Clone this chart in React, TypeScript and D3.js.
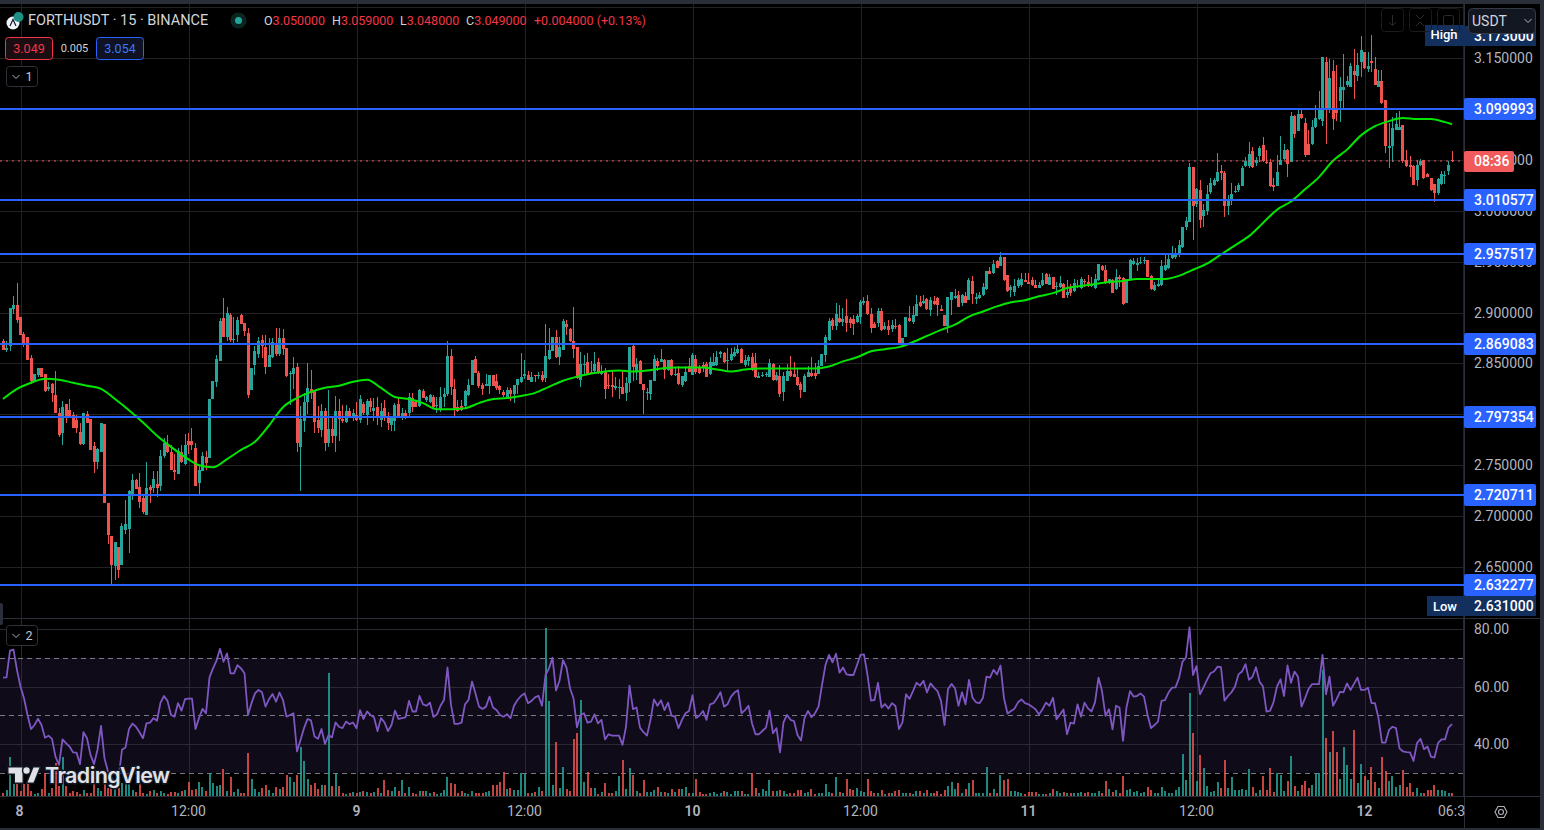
import React from "react";
import * as d3 from "d3";

// Candles as [open, high, low, close] in thousandths of USDT, 15-minute bars
const candlesA = [
[2872,2874,2863,2863],[2863,2872,2861,2865],[2867,2904,2862,2904],[2903,2916,2899,2907],[2907,2929,2890,2893],[2896,2896,2878,2878],[2879,2881,2866,2870],[2876,2876,2853,2853],[2855,2858,2830,2833],[2833,2840,2832,2840],
[2839,2845,2837,2845],[2845,2845,2837,2837],[2840,2840,2822,2823],[2825,2832,2823,2827],[2830,2831,2812,2821],[2819,2843,2801,2801],[2801,2806,2778,2780],[2782,2813,2770,2807],[2810,2810,2791,2796],[2804,2815,2796,2796],
[2799,2802,2787,2787],[2794,2799,2782,2787],[2783,2791,2770,2771],[2771,2801,2770,2801],[2800,2803,2791,2791],[2795,2795,2765,2765],[2769,2773,2742,2753],[2753,2767,2746,2766],[2763,2791,2763,2791],[2790,2790,2713,2713],
[2713,2713,2673,2681],[2680,2680,2632,2652],[2651,2675,2637,2675],[2670,2670,2639,2647],[2652,2693,2652,2690],[2686,2716,2682,2692],[2687,2726,2664,2725],[2722,2741,2716,2735],[2735,2736,2727,2727],[2729,2742,2708,2714],
[2718,2722,2702,2704],[2701,2753,2701,2728],[2729,2731,2713,2726],[2728,2744,2723,2736],[2732,2744,2719,2728],[2730,2765,2725,2759],[2759,2777,2757,2772],[2771,2780,2762,2763],[2763,2770,2745,2745],[2745,2761,2735,2743],
[2741,2767,2741,2764],[2763,2770,2752,2753],[2751,2781,2750,2770],[2774,2782,2761,2770],[2774,2787,2765,2770],[2767,2772,2730,2730],[2733,2749,2722,2745],[2744,2763,2744,2759],[2758,2764,2745,2752],[2757,2815,2757,2815],
[2815,2833,2815,2833],[2832,2858,2827,2854],[2852,2895,2852,2892],[2895,2914,2876,2876],[2876,2905,2872,2900],[2898,2900,2871,2873],[2873,2896,2869,2874],[2878,2896,2871,2893],[2898,2899,2889,2889],[2890,2890,2877,2882],
[2880,2885,2816,2819],[2824,2845,2824,2845],[2848,2867,2839,2862],[2859,2876,2855,2872],[2873,2878,2855,2867],[2866,2878,2840,2846],[2846,2875,2846,2858],[2856,2875,2855,2871],[2869,2885,2857,2859],[2859,2885,2857,2875],
[2875,2884,2858,2864],[2865,2865,2837,2838],[2840,2843,2809,2841],[2840,2856,2825,2845],[2846,2850,2763,2772],[2768,2808,2725,2795],[2793,2821,2783,2812],[2812,2850,2800,2826],[2825,2844,2815,2821],[2824,2824,2782,2792],
[2794,2808,2782,2787],[2785,2810,2778,2803],[2803,2806,2764,2772],[2772,2824,2768,2786],[2786,2796,2772,2779],[2779,2818,2763,2803],[2803,2815,2774,2795],[2795,2809,2791,2793],[2792,2809,2791,2803],[2803,2806,2796,2796],
];
const candlesB = [
[2796,2805,2793,2801],[2799,2812,2793,2794],[2794,2819,2791,2815],[2810,2812,2799,2801],[2799,2815,2789,2813],[2813,2816,2802,2807],[2803,2816,2793,2806],[2807,2817,2789,2796],[2794,2811,2788,2803],[2806,2814,2793,2798],
[2798,2802,2785,2791],[2789,2796,2784,2796],[2793,2811,2784,2809],[2810,2817,2796,2798],[2798,2806,2794,2801],[2801,2804,2795,2798],[2801,2821,2796,2817],[2816,2821,2802,2807],[2812,2814,2807,2807],[2808,2825,2807,2824],
[2823,2825,2816,2816],[2814,2818,2812,2817],[2812,2820,2811,2819],[2817,2819,2806,2807],[2808,2817,2801,2809],[2804,2827,2802,2817],[2817,2826,2807,2820],[2820,2872,2818,2857],[2857,2864,2819,2827],[2825,2835,2797,2806],
[2807,2814,2802,2803],[2808,2814,2803,2804],[2808,2824,2805,2823],[2819,2835,2818,2829],[2829,2853,2829,2853],[2854,2857,2841,2841],[2841,2843,2826,2828],[2829,2831,2819,2825],[2828,2840,2828,2830],[2828,2839,2820,2839],
[2839,2839,2828,2828],[2833,2840,2824,2826],[2828,2829,2820,2824],[2822,2824,2817,2819],[2817,2827,2817,2824],[2824,2826,2813,2820],[2820,2829,2811,2829],[2829,2835,2820,2835],[2832,2860,2831,2837],[2838,2853,2835,2840],
[2839,2843,2834,2834],[2832,2842,2832,2837],[2839,2839,2832,2838],[2838,2842,2835,2839],[2839,2843,2832,2834],[2836,2889,2832,2857],[2854,2885,2853,2863],[2862,2876,2862,2876],[2876,2883,2855,2856],[2856,2876,2848,2866],
[2863,2894,2863,2892],[2889,2893,2878,2886],[2884,2885,2871,2872],[2872,2905,2855,2864],[2866,2866,2835,2836],[2834,2861,2827,2849],[2848,2858,2840,2849],[2851,2860,2839,2840],[2842,2852,2840,2841],[2843,2861,2840,2849],
[2851,2855,2840,2841],[2840,2848,2839,2842],[2842,2845,2815,2825],[2829,2840,2825,2828],[2829,2844,2817,2827],[2826,2837,2824,2828],[2826,2835,2815,2827],[2827,2844,2820,2820],[2821,2837,2813,2831],[2831,2866,2822,2866],
[2867,2869,2833,2846],[2843,2855,2834,2849],[2852,2853,2830,2830],[2830,2830,2800,2824],[2821,2826,2814,2822],[2820,2834,2814,2834],[2833,2858,2833,2854],[2852,2855,2843,2847],[2851,2864,2851,2854],[2853,2854,2835,2844],
[2844,2853,2843,2853],[2853,2854,2838,2839],[2839,2845,2838,2840],[2841,2847,2829,2830],[2829,2838,2827,2838],[2833,2847,2832,2842],[2847,2855,2842,2842],[2839,2860,2839,2858],[2854,2858,2840,2842],[2846,2848,2840,2841],
];
const candlesC = [
[2848,2851,2842,2845],[2849,2851,2837,2837],[2840,2856,2839,2851],[2847,2860,2847,2851],[2848,2862,2847,2856],[2859,2862,2855,2861],[2860,2861,2850,2851],[2852,2865,2843,2853],[2853,2865,2852,2859],[2857,2866,2856,2861],
[2860,2868,2859,2864],[2864,2865,2850,2850],[2848,2858,2846,2853],[2852,2858,2847,2856],[2856,2860,2843,2844],[2850,2860,2836,2837],[2836,2842,2836,2838],[2838,2842,2837,2839],[2839,2842,2837,2840],[2837,2854,2837,2850],
[2849,2850,2833,2834],[2834,2842,2833,2839],[2838,2848,2817,2820],[2822,2842,2813,2838],[2833,2849,2833,2843],[2843,2857,2837,2838],[2840,2851,2837,2837],[2837,2845,2828,2829],[2830,2832,2816,2824],[2822,2840,2822,2838],
[2837,2847,2837,2842],[2841,2856,2837,2838],[2841,2850,2835,2838],[2840,2853,2840,2847],[2847,2859,2847,2859],[2858,2878,2851,2876],[2873,2895,2872,2892],[2893,2895,2883,2887],[2887,2909,2883,2899],[2895,2907,2890,2891],
[2891,2904,2887,2894],[2897,2913,2881,2890],[2894,2896,2885,2890],[2894,2898,2878,2889],[2891,2899,2890,2897],[2896,2912,2889,2910],[2909,2915,2907,2911],[2911,2917,2898,2899],[2899,2904,2880,2885],[2889,2891,2885,2885],
[2890,2904,2886,2901],[2901,2904,2882,2883],[2884,2891,2883,2887],[2887,2893,2878,2883],[2884,2893,2881,2888],[2887,2894,2884,2886],[2888,2889,2869,2870],[2868,2875,2867,2875],[2876,2896,2876,2896],[2895,2906,2891,2892],
[2891,2906,2889,2898],[2897,2917,2897,2908],[2910,2916,2905,2906],[2909,2917,2908,2911],[2913,2914,2902,2903],[2902,2915,2897,2912],[2911,2916,2907,2908],[2914,2915,2897,2907],[2903,2907,2901,2901],[2898,2898,2887,2887],
[2887,2915,2880,2915],[2912,2920,2898,2920],[2914,2923,2913,2916],[2917,2921,2905,2905],[2909,2918,2906,2917],[2916,2920,2909,2909],[2912,2934,2912,2932],[2931,2936,2908,2918],[2913,2919,2908,2915],[2914,2920,2913,2917],
[2917,2929,2916,2925],[2923,2941,2922,2941],[2941,2945,2938,2938],[2939,2952,2938,2948],[2951,2952,2944,2944],[2946,2959,2946,2955],[2955,2955,2931,2932],[2937,2937,2920,2921],[2922,2927,2915,2925],[2920,2933,2916,2926],
[2926,2934,2924,2932],[2927,2939,2925,2933],[2932,2939,2930,2930],[2930,2939,2928,2928],[2932,2935,2926,2927],[2927,2932,2924,2924],[2924,2930,2924,2927],[2927,2939,2926,2932],[2938,2939,2928,2928],[2927,2938,2927,2935],
];
const candlesD = [
[2935,2935,2923,2923],[2925,2930,2917,2926],[2925,2936,2924,2929],[2928,2929,2914,2914],[2917,2932,2914,2920],[2924,2928,2916,2919],[2921,2933,2920,2929],[2925,2932,2924,2926],[2924,2935,2923,2933],[2931,2933,2925,2930],
[2930,2937,2925,2927],[2926,2935,2925,2928],[2924,2938,2923,2933],[2932,2948,2931,2948],[2946,2947,2941,2942],[2942,2947,2928,2929],[2929,2933,2928,2933],[2932,2933,2919,2919],[2923,2943,2922,2935],[2935,2937,2925,2933],
[2934,2935,2907,2908],[2909,2933,2909,2933],[2933,2953,2932,2952],[2948,2954,2947,2951],[2947,2954,2941,2949],[2949,2955,2948,2950],[2952,2955,2948,2952],[2952,2952,2935,2935],[2936,2937,2922,2923],[2922,2930,2921,2927],
[2926,2932,2925,2928],[2927,2952,2926,2946],[2942,2956,2941,2947],[2944,2956,2943,2953],[2954,2965,2953,2957],[2955,2963,2953,2957],[2958,2971,2955,2966],[2964,2984,2963,2984],[2984,2994,2981,2990],[2989,3047,2989,3043],
[3043,3043,2971,3005],[3007,3022,3004,3021],[3020,3030,2983,2991],[2995,3007,2984,3001],[3000,3025,2996,3016],[3018,3032,3016,3027],[3025,3032,3024,3030],[3029,3057,3028,3038],[3039,3045,3030,3037],[3037,3039,2994,3005],
[3005,3015,2996,3010],[3010,3027,3006,3016],[3018,3024,3017,3019],[3020,3027,3018,3025],[3024,3044,3024,3042],[3044,3053,3043,3049],[3044,3067,3042,3056],[3059,3063,3042,3043],[3047,3053,3044,3050],[3054,3064,3048,3062],
[3065,3072,3048,3049],[3048,3060,3046,3047],[3048,3051,3023,3024],[3025,3032,3019,3023],[3024,3055,3024,3038],[3045,3073,3045,3050],[3051,3066,3050,3060],[3060,3061,3033,3046],[3048,3097,3048,3093],[3093,3094,3071,3075],
[3078,3100,3078,3095],[3095,3100,3090,3091],[3086,3091,3053,3055],[3066,3079,3055,3055],[3066,3089,3065,3082],[3082,3104,3081,3091],[3090,3118,3089,3101],[3088,3151,3083,3151],[3146,3151,3066,3100],[3100,3149,3096,3130],
[3137,3148,3079,3090],[3101,3143,3088,3096],[3108,3131,3087,3122],[3119,3154,3101,3122],[3123,3132,3122,3127],[3122,3145,3122,3142],[3137,3159,3110,3133],[3132,3155,3127,3143],[3146,3172,3131,3158],[3156,3156,3139,3140],
[3139,3156,3136,3142],[3147,3173,3136,3145],[3139,3151,3123,3123],[3122,3138,3122,3127],[3127,3138,3105,3106],[3109,3109,3057,3064],[3062,3086,3042,3064],[3064,3092,3048,3081],[3079,3096,3079,3085],[3079,3098,3079,3082],
[3084,3084,3047,3049],[3050,3060,3043,3044],[3045,3054,3033,3043],[3044,3045,3025,3025],[3030,3050,3024,3045],[3045,3051,3044,3049],[3050,3050,3031,3032],[3036,3037,3033,3033],[3032,3032,3019,3020],[3026,3026,3009,3017],
[3017,3032,3015,3031],[3026,3039,3025,3036],[3034,3039,3026,3035],[3039,3049,3035,3045],[3050,3059,3048,3049],
];

// 25-ish point moving average, read every fourth bar
const maPart1 = [2815,2825,2831,2835,2834,2831,2828,2825,2815,2804,2792,2779,2768,2758,2750,2748,2756,2765,2773,2789,2807,2816,2822,2826,2828];
const maPart2 = [2832,2834,2826,2817,2815,2811,2805,2805,2806,2811,2815,2816,2818,2821,2827,2833,2837,2840,2842,2843,2842,2843,2845,2846,2846];
const maPart3 = [2846,2844,2842,2844,2845,2845,2845,2845,2845,2847,2852,2856,2862,2864,2866,2871,2877,2883,2888,2896,2901,2906,2910,2912,2916];
const maPart4 = [2919,2924,2926,2928,2930,2931,2933,2933,2933,2936,2942,2948,2957,2966,2975,2988,3001,3009,3021,3033,3049,3060,3074,3083,3088,3091,3090,3090,3087,3085];

const rsiA = [
63.1,63.2,72.5,72.8,65.7,60,55.9,50.1,45.2,46.6,48.8,46.6,42.2,42.9,41.8,35.6,32.7,41.6,40.3,39.1,
37.1,37,33,44.1,42,36.2,33,38,46.3,35,30.4,28.1,26.9,28.1,38,38.8,45.2,47.1,46,44.1,
42,47.2,47.4,49,48.1,54.4,56.7,55,50.1,49.5,54.2,51.6,55.6,55.8,55.8,45.2,49,52.2,50.7,63.2,
66.3,69,73.1,68.6,71.5,64.6,64.6,67.4,66.3,64.6,50.1,54.2,57.6,58.8,58,53,55.6,57.4,54.7,57.9,
55.3,49.5,50.1,50.7,37.4,41.4,45.5,48.7,48.2,42.6,41.8,45.2,40,43.1,42.3,47.5,46,45.5,47.8,46.9,
47.5,45.5,51.8,48.7,51.3,50.1,49.3,44.5,49,47.5,44.5,46.6,51.6,48.7,49,49.3,55,51.3,51.3,56.7,
53.8,53.3,54.4,49.4,50.3,53.3,55.3,66.6,53.6,47,47,47.4,53.8,55.3,61.7,57.6,53,52.2,53,56.5,52.7,51.8,50.1,
];
const rsiB = [
49.5,50.4,49,53.3,55.3,56.7,57.6,54.2,55,56.2,56.8,53.3,64,66.3,70,58.6,62,69.2,66.6,59.4,
55.9,45.8,50.1,50.7,47.4,47.8,50.3,47.2,48.4,41.6,43.4,42.9,42.9,42.9,39.7,46,60.3,52.1,52.7,45.7,
44.1,42.9,48.4,55.5,53.3,55.2,51.8,54.4,49.9,49.5,45.5,48.4,50.7,51.5,57,49,49.9,51.5,48.4,53.8,
54.2,55.9,58,53,53.8,56.5,57.9,58.7,50.7,51.8,53.3,47.2,43.4,43.4,44.6,45.7,51.6,43.7,45.5,37.1,
47.5,50.1,48.4,48,43.1,41.2,49,51.5,49.3,50.7,53,60.5,67.5,71,68.4,71.4,64.8,66.6,64.2,64,
64,67.5,71,71.2,64,55.1,55.3,61.3,52.7,53.9,52.3,54.2,53.2,45.2,47.5,57.3,55.7,58.4,61.3,60.3,
62,57.9,61.1,59.6,58.4,55,46.6,59.1,60.9,59.4,53.3,58,53.8,62.3,56.1,54.5,54.2,56.1,63.4,63.1,65.8,64.2,67.3,
];
const rsiC = [
55.9,50.6,51.5,52.3,54.5,55.5,54.2,53.8,53,52.1,50.3,52.1,54.4,53.3,56.1,48.6,50.3,52,43.4,47.4,
47.1,53.8,49.5,54.4,52.4,51.3,54.5,63.1,58.4,49.8,52.1,45.1,53.3,52.7,41.1,52.8,58.4,56.5,56.7,57.6,
56.5,50.2,45.5,46.6,47.8,55,55.3,57.9,59.6,59.7,62.9,68.6,70.1,80.6,64,67.1,57.3,59.7,62.3,64.6,
65.2,66.9,66.7,55.1,56.7,58,60,64.2,65.2,67.8,62.3,63.4,66.7,61.7,60,51.3,51.5,54.5,60,62.5,
56.7,67.3,61.3,65.2,63.4,53,55.9,59.1,60.8,60.8,60.8,71,57.3,63.4,53.3,55.5,58.1,58,61.1,58.8,
60.9,63.1,58.8,58.8,59.6,54.2,54.2,49,40.5,40.5,44.9,46,45.5,38.5,37.4,37.2,37.1,34.1,40.3,41.8,
38.2,39.1,35.6,35.3,40.3,41.6,41.6,45.7,46.9,
];

const volumeA = [
8,18,117,35,35,15,35,35,15,6,10,22,68,10,25,100,30,118,30,10,
14,12,5,18,8,8,35,25,15,35,25,25,20,25,40,35,35,18,12,38,
10,5,16,18,10,14,10,6,12,12,8,15,18,42,18,20,42,28,14,68,
40,30,32,80,15,57,12,22,10,10,128,50,22,12,25,32,18,10,26,20,
28,62,58,42,62,147,105,52,32,38,22,32,32,368,30,68,30,10,6,8,
12,8,12,16,12,8,12,25,8,48,18,14,26,14,48,10,28,10,5,14,
14,14,8,12,5,10,18,57,38,35,10,14,8,5,14,8,10,8,12,14,32,32,43,
];
const volumeB = [
72,22,25,18,18,68,65,8,10,12,28,15,503,285,33,162,25,87,20,15,
170,190,288,42,72,25,24,6,12,40,10,10,14,60,108,22,83,62,14,10,
48,12,12,18,26,12,12,10,22,12,20,22,26,8,8,52,12,5,5,8,
12,5,8,14,12,5,14,14,14,5,5,70,25,8,20,14,48,14,14,18,
14,5,8,8,18,18,10,12,22,5,8,8,35,12,8,58,12,8,52,20,
18,25,16,12,52,16,10,8,18,5,10,10,14,18,8,10,10,5,14,14,
8,18,8,8,14,5,18,30,42,22,38,10,22,38,48,8,8,8,87,8,20,10,62,
];
const volumeC = [
47,52,15,15,12,10,5,12,12,12,5,5,5,10,20,15,8,12,8,8,
8,8,12,10,12,10,8,15,10,45,22,12,18,8,60,18,20,12,15,8,
12,28,18,8,8,28,15,8,10,18,28,125,48,310,188,45,122,85,30,12,
14,42,25,108,25,58,18,18,22,18,80,28,8,18,60,18,84,12,68,62,
15,45,120,30,15,32,45,25,32,68,68,378,173,132,195,132,52,147,93,52,
198,40,97,60,48,88,42,25,117,75,45,60,28,33,78,28,38,12,25,8,
8,18,18,33,18,18,14,8,8,
];

const levelPrices = [3.099993, 3.010577, 2.957517, 2.869083, 2.797354, 2.720711, 2.632277];
const priceTicks = [3.2, 3.15, 3.1, 3.05, 3.0, 2.95, 2.9, 2.85, 2.8, 2.75, 2.7, 2.65];
const rsiTicks = [80, 60, 40];
const rsiBands = [70, 50, 30];
const timeLabels = ["8", "12:00", "9", "12:00", "10", "12:00", "11", "12:00", "12", "06:30"];
const timeIndex = [0, 48, 96, 144, 192, 240, 288, 336, 384, 412];
const ohlcLabels = ["O", "H", "L", "C"];
const ohlcValues = ["3.050000", "3.059000", "3.048000", "3.049000"];
const ohlcX = [264, 332, 400, 466];

const FONT = "Roboto, 'Noto Sans', sans-serif";
const UP = "#26a69a";
const DOWN = "#ef5350";
const BLUE = "#2962ff";
const GRID = "#222225";
const AXIS = "#b2b5be";
const firstIndex = -5;
const plotRight = 1465;

const candles = [...candlesA, ...candlesB, ...candlesC, ...candlesD].map((r, k) => ({
  i: firstIndex + k, o: r[0] / 1000, h: r[1] / 1000, l: r[2] / 1000, c: r[3] / 1000,
}));
const rsi = [...rsiA, ...rsiB, ...rsiC];
const volume = [...volumeA, ...volumeB, ...volumeC];
const lastIndex = candles[candles.length - 1].i;
const ma = [...maPart1, ...maPart2, ...maPart3, ...maPart4].map((v, k) => ({
  i: Math.min(firstIndex + 4 * k, lastIndex), v: v / 1000,
}));

const x = d3.scaleLinear().domain([0, 48]).range([20.5, 188.5]);
const y = d3.scaleLinear().domain([3.15, 2.65]).range([58, 567]);
const yRsi = d3.scaleLinear().domain([80, 40]).range([629, 744]);
const yVol = d3.scaleLinear().domain([0, 504]).range([796, 628]);

const maLine = d3.line<{ i: number; v: number }>().x((d) => x(d.i)).y((d) => y(d.v)).curve(d3.curveMonotoneX);
const rsiLine = d3.line<number>().x((_, k) => x(firstIndex + k)).y((d) => yRsi(d));

function Label({ price, fill, text }: { price: number; fill: string; text?: string }) {
  const cy = y(price);
  return (
    <g>
      <rect x={1464} y={cy - 11} width={72} height={22} rx={2} fill={fill} />
      <text x={1474} y={cy + 5} fontSize={14} fontWeight={500} fill="#fff" fontFamily={FONT}>
        {text ?? price.toFixed(6)}
      </text>
    </g>
  );
}

function Chevron({ cx, cy, stroke }: { cx: number; cy: number; stroke: string }) {
  return <path d={`M${cx - 3.5} ${cy - 2}L${cx} ${cy + 1.5}L${cx + 3.5} ${cy - 2}`} fill="none" stroke={stroke} strokeWidth={1} />;
}

export default function App() {
  return (
    <svg width={1544} height={830} style={{ position: "absolute", left: 0, top: 0, background: "#000" }} fontFamily={FONT}>
      <defs>
        <clipPath id="plot"><rect x={0} y={0} width={plotRight} height={830} /></clipPath>
      </defs>
      <rect x={0} y={4} width={1544} height={824} fill="#000" />

      {/* grid */}
      {priceTicks.map((t) => (
        <line key={t} x1={0} x2={plotRight} y1={Math.round(y(t)) + 0.5} y2={Math.round(y(t)) + 0.5} stroke={GRID} />
      ))}
      {timeIndex.map((t) => (
        <g key={t}>
          <line x1={Math.round(x(t)) + 0.5} x2={Math.round(x(t)) + 0.5} y1={4} y2={618} stroke={GRID} />
        </g>
      ))}

      {/* RSI pane background */}
      <rect x={0} y={yRsi(70)} width={plotRight} height={yRsi(30) - yRsi(70)} fill="#0f0b18" />
      {rsiTicks.map((t) => (
        <line key={t} x1={0} x2={plotRight} y1={Math.round(yRsi(t)) + 0.5} y2={Math.round(yRsi(t)) + 0.5} stroke="#2a2833" />
      ))}
      {timeIndex.map((t) => (
        <line key={t} x1={Math.round(x(t)) + 0.5} x2={Math.round(x(t)) + 0.5} y1={618} y2={796} stroke="#2a2833" />
      ))}
      {rsiBands.map((t) => (
        <line key={t} x1={0} x2={plotRight} y1={Math.round(yRsi(t)) + 0.5} y2={Math.round(yRsi(t)) + 0.5} stroke="#787b86" strokeDasharray="5 4" />
      ))}

      {/* volume */}
      <g shapeRendering="crispEdges" opacity={0.82}>
        {volume.map((v, k) => {
          const c = candles[k];
          const px = Math.round(x(c.i) - 1);
          return <rect key={k} x={px} y={yVol(v)} width={2} height={796 - yVol(v)} fill={c.c >= c.o ? UP : DOWN} />;
        })}
      </g>

      {/* RSI line */}
      <path d={rsiLine(rsi) ?? ""} fill="none" stroke="#7e57c2" strokeWidth={1.8} strokeLinejoin="round" />

      {/* candles */}
      <g shapeRendering="crispEdges">
        {candles.map((c) => {
          const color = c.c >= c.o ? UP : DOWN;
          const left = Math.round(x(c.i) - 1.5);
          const top = y(Math.max(c.o, c.c));
          const h = Math.max(1, Math.abs(y(c.o) - y(c.c)));
          return (
            <g key={c.i}>
              <rect x={left + 1} y={y(c.h)} width={1} height={Math.max(1, y(c.l) - y(c.h))} fill={color} />
              <rect x={left} y={top} width={3} height={h} fill={color} />
            </g>
          );
        })}
      </g>

      {/* moving average */}
      <path d={maLine(ma) ?? ""} fill="none" stroke="#00e600" strokeWidth={2} />

      {/* horizontal levels */}
      {levelPrices.map((p) => (
        <line key={p} x1={0} x2={plotRight} y1={y(p)} y2={y(p)} stroke={BLUE} strokeWidth={2} />
      ))}

      {/* last price */}
      <line x1={0} x2={plotRight} y1={161} y2={161} stroke="#f7525f" strokeWidth={1.2} strokeDasharray="2 4" />

      {/* right axis */}
      <rect x={plotRight} y={4} width={79} height={824} fill="#000" />
      <line x1={plotRight - 0.5} x2={plotRight - 0.5} y1={4} y2={828} stroke="#2a2e39" />
      <line x1={0} x2={1544} y1={618.5} y2={618.5} stroke="#2a2e39" />
      <line x1={0} x2={1544} y1={796.5} y2={796.5} stroke="#2a2e39" />
      {priceTicks.slice(1).map((t) => (
        <text key={t} x={1474} y={y(t) + 5} fontSize={14} fill={AXIS}>{t.toFixed(6)}</text>
      ))}
      {rsiTicks.map((t) => (
        <text key={t} x={1474} y={yRsi(t) + 5} fontSize={14} fill={AXIS}>{t.toFixed(2)}</text>
      ))}

      {/* high label */}
      <rect x={1464} y={26} width={72} height={20} fill="#132f5e" />
      <text x={1474} y={41} fontSize={14} fontWeight={500} fill="#fff">3.173000</text>
      <rect x={1425} y={25} width={39} height={21} fill="#132f5e" />
      <text x={1444} y={39} fontSize={13} fontWeight={500} fill="#fff" textAnchor="middle">High</text>

      {levelPrices.map((p) => <Label key={p} price={p} fill={BLUE} />)}

      {/* low label */}
      <rect x={1464} y={596} width={72} height={20} fill="#132f5e" />
      <text x={1474} y={611} fontSize={14} fontWeight={500} fill="#fff">2.631000</text>
      <rect x={1427} y={596} width={37} height={20} fill="#132f5e" />
      <text x={1445} y={611} fontSize={13} fontWeight={500} fill="#fff" textAnchor="middle">Low</text>

      {/* countdown */}
      <rect x={1464} y={151} width={50} height={21} rx={2} fill="#f15b5b" />
      <text x={1474} y={166} fontSize={14} fontWeight={500} fill="#fff">08:36</text>

      {/* time axis */}
      <g clipPath="url(#plot)">
        {timeLabels.map((t, k) => (
          <text key={k} x={k === 9 ? 1438 : x(timeIndex[k]) - (k === 0 ? 1 : 0)} y={816} fontSize={14} fill={AXIS}
            fontWeight={k % 2 === 0 && k < 9 ? 600 : 400} textAnchor={k === 9 ? "start" : "middle"}>{t}</text>
        ))}
      </g>
      <path d="M1495 812L1498 806.5H1504L1507 812L1504 817.5H1498Z M1503.5 812a2.5 2.5 0 1 1-5 0a2.5 2.5 0 1 1 5 0Z" fill="none" stroke={AXIS} strokeWidth={1.1} />

      {/* legend */}
      <circle cx={13} cy={23} r={6.5} fill="#f0f3fa" />
      <path d="M10 26L13 19.5L16 26" fill="none" stroke="#131722" strokeWidth={1.2} />
      <circle cx={18.5} cy={17} r={5} fill="#1e9088" />
      <text x={28} y={25} fontSize={14.5} fill="#d1d4dc">FORTHUSDT · 15 · BINANCE</text>
      <circle cx={238.5} cy={20.5} r={8} fill="#0b2522" />
      <circle cx={238.5} cy={20.5} r={3.5} fill={UP} />
      {ohlcLabels.map((l, k) => (
        <text key={l} x={ohlcX[k]} y={25} fontSize={12.5} fill="#d1d4dc">
          {l}<tspan fill="#f23645">{ohlcValues[k]}</tspan>
        </text>
      ))}
      <text x={534} y={25} fontSize={12.5} fill="#f23645">+0.004000 (+0.13%)</text>

      <rect x={5.5} y={37.5} width={47} height={22} rx={3} fill="#1a0e12" stroke="#f23645" />
      <text x={29} y={53} fontSize={12.5} textAnchor="middle" fill="#f23645">3.049</text>
      <text x={74.5} y={52} fontSize={11} textAnchor="middle" fill="#d1d4dc">0.005</text>
      <rect x={96.5} y={37.5} width={47} height={22} rx={3} fill="#0e1222" stroke={BLUE} />
      <text x={120} y={53} fontSize={12.5} textAnchor="middle" fill="#3b78ff">3.054</text>

      <rect x={6.5} y={66.5} width={31} height={20} rx={3} fill="#000" stroke="#2f3138" />
      <Chevron cx={16} cy={77} stroke="#b2b5be" />
      <text x={29} y={81} fontSize={12.5} textAnchor="middle" fill="#c3c6ce">1</text>
      <rect x={6.5} y={625.5} width={31} height={20} rx={3} fill="#000" stroke="#2f3138" />
      <Chevron cx={16} cy={636} stroke="#b2b5be" />
      <text x={29} y={640} fontSize={12.5} textAnchor="middle" fill="#c3c6ce">2</text>

      {/* chart buttons */}
      {[1381, 1409, 1437].map((bx) => (
        <rect key={bx} x={bx + 0.5} y={8.5} width={22} height={23} rx={3} fill="none" stroke="#1a1b1e" />
      ))}
      <path d="M1392.5 15V25M1389 22L1392.5 25.5L1396 22" fill="none" stroke="#2a2c30" />
      <path d="M1416 15L1420 19L1424 15M1416 26L1420 22L1424 26" fill="none" stroke="#2a2c30" />
      <rect x={1443.5} y={15.5} width={10} height={10} rx={2} fill="none" stroke="#2a2c30" />

      {/* currency */}
      <rect x={1468.5} y={8.5} width={67} height={25} rx={4} fill="#131722" stroke="#363a45" />
      <text x={1472} y={26} fontSize={14} fill="#d1d4dc">USDT</text>
      <Chevron cx={1528} cy={21} stroke="#b2b5be" />

      {/* watermark */}
      <g stroke="#131722" strokeWidth={3} paintOrder="stroke" fill="#e1e2e8">
        <path d="M8.5 767.5H22.5V782.5H15V773.5H8.5Z" />
        <circle cx={26.5} cy={770.5} r={3.2} />
        <path d="M33.5 767.5H39.5L33.5 782.5H27.5Z" />
        <text x={45} y={783} fontSize={21.5} fontWeight={600} fontFamily="Inter, Roboto, sans-serif" letterSpacing={-0.6}>TradingView</text>
      </g>

      {/* window frame */}
      <rect x={0} y={0} width={1544} height={4} fill="#2a2e39" />
      <rect x={0} y={828} width={1544} height={2} fill="#2a2e39" />
      <rect x={1540} y={4} width={4} height={824} fill="#2a2e39" />
      <path d="M0 603H1a2 2 0 0 1 2 2V623a2 2 0 0 1-2 2H0Z" fill="#2a2e39" />
    </svg>
  );
}
